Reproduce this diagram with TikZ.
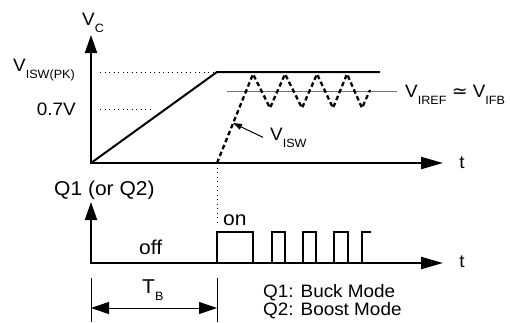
\documentclass[tikz,border=0pt]{standalone}
\usepackage{fontspec}
\setmainfont{Liberation Sans}[FakeStretch=1.05]
\newfontfamily\symfont{DejaVu Sans}[FakeStretch=1.05]
\usetikzlibrary{arrows.meta}
\newcommand\vsub[1]{\raisebox{-7pt}{\fontsize{12}{14}\selectfont #1}}

\begin{document}
\begin{tikzpicture}[
    x=1pt, y=-1pt,
    font=\fontsize{18}{21}\selectfont,
    lbl/.style={inner sep=0pt},
    biglbl/.style={inner sep=0pt, font=\fontsize{20}{23}\selectfont},
    axes/.style={{Triangle[length=18pt, width=12pt]}-{Triangle[length=22pt, width=12pt]},
                 line width=2pt},
    ramp/.style={line width=2pt},
    isw/.style={line width=2.3pt, dash pattern=on 4.5pt off 3pt},
    refline/.style={line width=1pt, black!55},
    guide/.style={line width=0.9pt, dash pattern=on 1pt off 3.5pt},
    pulse/.style={line width=1.1pt},
    dimline/.style={line width=1pt},
    dimarrow/.style={{Triangle[length=18pt, width=12pt]}-{Triangle[length=18pt, width=12pt]},
                     line width=1pt},
    pointer/.style={-{Triangle[length=9pt, width=6pt]}, line width=1pt},
]
\useasboundingbox (0,0) rectangle (510,322);

% --- top panel: V_C ---
\coordinate (vtop) at (91,35);
\coordinate (o1) at (91,163);
\coordinate (ttop) at (443,163);
\coordinate (pk) at (217,72);
\coordinate (flatend) at (380,72);
\coordinate (refstart) at (227,91);
\coordinate (refend) at (397,91);
\coordinate (lvl) at (100,109);
\coordinate (sw0) at (217,163);

\node[lbl, anchor=base west] (vc) at (82,25) {V\vsub{C}};
\node[lbl, anchor=base west] (vpk) at (13,71) {V\vsub{ISW(PK)}};
\node[lbl, anchor=east] (v07) at (76,109) {0.7V};
\node[lbl] (t1) at (462,163) {t};
\node[lbl, anchor=base west] (vref) at (405,97)
  {V\vsub{IREF} {\symfont ≃} V\vsub{IFB}};
\node[lbl, anchor=base west] (lisw) at (270,140) {V\vsub{ISW}};

\draw[axes] (vtop) -- (o1) -- (ttop);
\draw[guide] (100,72) -- (pk);
\draw[guide] (lvl) -- (150,109);
\draw[ramp] (o1) -- (pk) -- (flatend);
\draw[refline] (refstart) -- (refend);

% switch current: ramp up, then ripple round the reference
\draw[isw] (sw0) -- (253,74) -- (270,108) -- (285,74) -- (302,108)
  -- (317,74) -- (333,108) -- (347,74) -- (362,108) -- (370,90);
\coordinate (iswtip) at (233,123);
\draw[pointer] ([xshift=-7pt]lisw.west) -- (iswtip);

% --- bottom panel: Q1 (or Q2) ---
\coordinate (qtop) at (91,202);
\coordinate (o2) at (91,263);
\coordinate (tbot) at (443,263);
\coordinate (ontop) at (217,222);

\node[biglbl, anchor=base west] (q) at (54,195) {Q1 (or Q2)};
\node[biglbl, anchor=base west] (off) at (139,254) {off};
\node[biglbl, anchor=base west] (on) at (223,225) {on};
\node[lbl] (t2) at (462,262) {t};

\draw[axes] (qtop) -- (o2) -- (tbot);
\draw[guide] (sw0) -- (ontop);

\draw[pulse] (217,263) |- (253,232) -- (253,263);
\foreach \a/\b in {272/285, 303/316, 334/348}
  \draw[pulse] (\a,263) |- (\b,232) -- (\b,263);
\draw[pulse] (362,263) |- (371,232);

% --- blanking time T_B ---
\coordinate (tbl) at (91,278);
\coordinate (tbr) at (217,278);
\draw[dimline] (tbl) -- (91,322);
\draw[dimline] (tbr) -- (217,322);
\draw[dimarrow] (91,308) -- (217,308);
\node[biglbl, anchor=base west] (tb) at (142,293) {T\vsub{B}};

\node[lbl, anchor=base west] (buck) at (263,297) {Q1: Buck Mode};
\node[lbl, anchor=base west] (boost) at (263,315) {Q2: Boost Mode};
\end{tikzpicture}
\end{document}
